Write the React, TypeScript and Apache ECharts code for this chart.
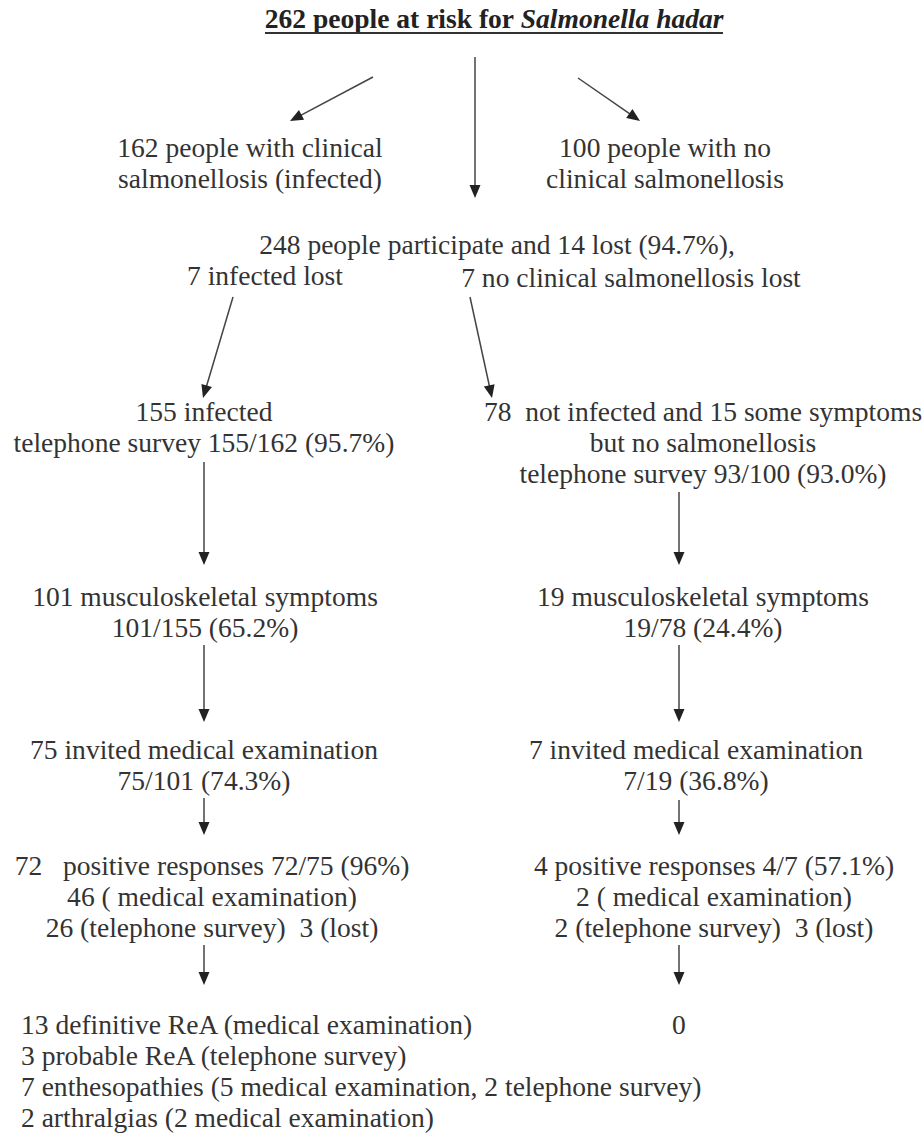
import React, { useEffect, useRef } from "react";
import * as echarts from "echarts";

// ---- Content (text of the flow chart) ----
const titlePlain = "262 people at risk for ";
const titleItalic = "Salmonella hadar";
const infectedLines = ["162 people with clinical", "salmonellosis (infected)"];
const notInfectedLines = ["100 people with no", "clinical salmonellosis"];
const participateLines = ["248 people participate and 14 lost (94.7%),"];
const infectedLostLines = ["7 infected lost"];
const noClinLostLines = ["7 no clinical salmonellosis lost"];
const surveyLeftLines = ["155 infected", "telephone survey 155/162 (95.7%)"];
const surveyRightLines = [
  "78\u00a0 not infected and 15 some symptoms",
  "but no salmonellosis",
  "telephone survey 93/100 (93.0%)",
];
const muscLeftLines = ["101 musculoskeletal symptoms", "101/155 (65.2%)"];
const muscRightLines = ["19 musculoskeletal symptoms", "19/78 (24.4%)"];
const invitedLeftLines = ["75 invited medical examination", "75/101 (74.3%)"];
const invitedRightLines = ["7 invited medical examination", "7/19 (36.8%)"];
const respLeftLines = [
  "72\u00a0\u00a0 positive responses 72/75 (96%)",
  "46 ( medical examination)",
  "26 (telephone survey)\u00a0 3 (lost)",
];
const respRightLines = [
  "4 positive responses 4/7 (57.1%)",
  "2 ( medical examination)",
  "2 (telephone survey)\u00a0 3 (lost)",
];
const outcomeLeftLines = [
  "13 definitive ReA (medical examination)",
  "3 probable ReA (telephone survey)",
  "7 enthesopathies (5 medical examination, 2 telephone survey)",
  "2 arthralgias (2 medical examination)",
];
const outcomeRightLines = ["0"];

// ---- Layout (kept apart from the content) ----
const FAMILY = "'Liberation Serif', 'DejaVu Serif', serif";
const FS = 27;
const FONT = `${FS}px ${FAMILY}`;
const FONT_B = `bold ${FS}px ${FAMILY}`;
const FONT_BI = `italic bold ${FS}px ${FAMILY}`;
const LH = 31;
const INK = "#333333";
const SX = 1.02;

type Box = { lines: string[]; x: number; y: number; align: "center" | "left" };
const boxes: Box[] = [
  { lines: infectedLines, x: 250, y: 148, align: "center" },
  { lines: notInfectedLines, x: 665, y: 148, align: "center" },
  { lines: participateLines, x: 497, y: 245, align: "center" },
  { lines: infectedLostLines, x: 265, y: 276, align: "center" },
  { lines: noClinLostLines, x: 631, y: 278, align: "center" },
  { lines: surveyLeftLines, x: 204, y: 412, align: "center" },
  { lines: surveyRightLines, x: 703, y: 412, align: "center" },
  { lines: muscLeftLines, x: 205, y: 597, align: "center" },
  { lines: muscRightLines, x: 703, y: 597, align: "center" },
  { lines: invitedLeftLines, x: 204, y: 750, align: "center" },
  { lines: invitedRightLines, x: 696, y: 750, align: "center" },
  { lines: respLeftLines, x: 212, y: 866, align: "center" },
  { lines: respRightLines, x: 714, y: 866, align: "center" },
  { lines: outcomeLeftLines, x: 21, y: 1025, align: "left" },
  { lines: outcomeRightLines, x: 679, y: 1025, align: "center" },
];

const arrows: number[][] = [
  [373, 77, 290, 121],
  [475, 57, 475, 198],
  [578, 78, 640, 121],
  [233, 297, 203, 398],
  [470, 297, 492, 398],
  [204, 462, 204, 565],
  [679, 492, 679, 565],
  [204, 645, 204, 722],
  [679, 645, 679, 722],
  [204, 798, 204, 835],
  [679, 800, 679, 835],
  [204, 945, 204, 985],
  [679, 945, 679, 985],
];

function arrowElements(a: number[]) {
  const [x1, y1, x2, y2] = a;
  const dx = x2 - x1;
  const dy = y2 - y1;
  const len = Math.sqrt(dx * dx + dy * dy);
  const ux = dx / len;
  const uy = dy / len;
  const head = 13;
  const half = 5.5;
  const bx = x2 - ux * head;
  const by = y2 - uy * head;
  const px = -uy;
  const py = ux;
  return [
    {
      type: "line",
      shape: { x1, y1, x2: bx + ux * 2, y2: by + uy * 2 },
      style: { stroke: "#444444", lineWidth: 1.5 },
      silent: true,
    },
    {
      type: "polygon",
      shape: {
        points: [
          [x2, y2],
          [bx + px * half, by + py * half],
          [bx - px * half, by - py * half],
        ],
      },
      style: { fill: "#222222" },
      silent: true,
    },
  ];
}

export default function App() {
  const ref = useRef<HTMLDivElement>(null);
  useEffect(() => {
    if (!ref.current) return;
    const chart = echarts.init(ref.current, undefined, { renderer: "svg" });
    const elements: any[] = [];
    // title
    elements.push({
      type: "text",
      x: 494,
      y: 19,
      scaleX: SX,
      style: {
        text: `{a|${titlePlain}}{b|${titleItalic}}`,
        font: FONT_B,
        textAlign: "center",
        textVerticalAlign: "middle",
        fill: "#222222",
        rich: {
          a: { font: FONT_B, fill: "#222222" },
          b: { font: FONT_BI, fill: "#222222" },
        },
      },
      silent: true,
    });
    elements.push({
      type: "line",
      shape: { x1: 265, y1: 33, x2: 723, y2: 33 },
      style: { stroke: "#333333", lineWidth: 2 },
      silent: true,
    });
    boxes.forEach((b) => {
      b.lines.forEach((t, i) => {
        elements.push({
          type: "text",
          x: b.x,
          y: b.y + i * LH,
          scaleX: SX,
          style: {
            text: t,
            font: FONT,
            fill: INK,
            textAlign: b.align,
            textVerticalAlign: "middle",
          },
          silent: true,
        });
      });
    });
    arrows.forEach((a) => elements.push(...arrowElements(a)));
    chart.setOption({
      animation: false,
      backgroundColor: "#ffffff",
      graphic: { elements },
    });
    return () => chart.dispose();
  }, []);
  return (
    <div
      ref={ref}
      style={{ position: "absolute", left: 0, top: 0, width: 924, height: 1145, background: "#fff" }}
    />
  );
}
